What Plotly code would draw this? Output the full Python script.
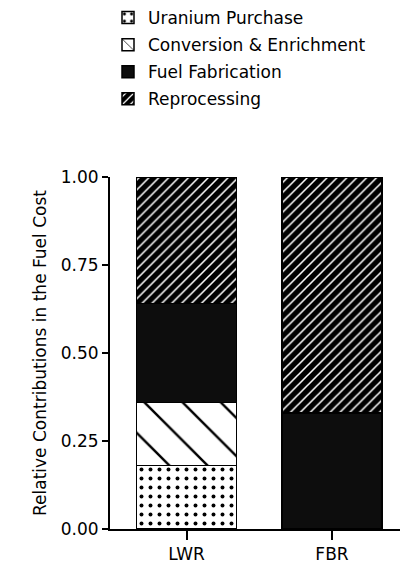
import plotly.graph_objects as go

categories = ["LWR", "FBR"]
uranium_purchase = [0.18, 0.0]
conversion_enrichment = [0.18, 0.0]
fuel_fabrication = [0.28, 0.33]
reprocessing = [0.36, 0.67]
y_ticks = [0.0, 0.25, 0.5, 0.75, 1.0]
y_tick_labels = ["0.00", "0.25", "0.50", "0.75", "1.00"]

series = [
    ("Uranium Purchase", uranium_purchase,
     dict(color="white", pattern=dict(shape=".", fgcolor="black", bgcolor="white", size=9, solidity=0.15, fillmode="replace"))),
    ("Conversion & Enrichment", conversion_enrichment,
     dict(color="white", pattern=dict(shape="\\", fgcolor="black", bgcolor="white", size=27, solidity=0.09, fillmode="replace"))),
    ("Fuel Fabrication", fuel_fabrication,
     dict(color="#0d0d0d")),
    ("Reprocessing", reprocessing,
     dict(color="black", pattern=dict(shape="/", fgcolor="white", bgcolor="black", size=7, solidity=0.22, fillmode="replace"))),
]

fig = go.Figure()
for i, (name, vals, mk) in enumerate(series):
    mk = dict(mk)
    mk["line"] = dict(color="black", width=1.5)
    fig.add_trace(go.Bar(x=categories, y=vals, name=name, marker=mk,
                         width=0.69, legendgroup=f"g{i}"))

font = "DejaVu Sans, Verdana, sans-serif"
W, H = 400, 563
ML, MR, MT, MB = 102, 4, 169, 42
PW, PH = W - ML - MR, H - MT - MB
fig.update_layout(
    barmode="stack",
    width=W, height=H,
    margin=dict(l=ML, r=MR, t=MT, b=MB, autoexpand=False),
    paper_bgcolor="white", plot_bgcolor="white",
    font=dict(family=font, size=17, color="black"),
    legend=dict(
        x=(100 - ML) / PW, y=1 + (MT + 8) / PH, xanchor="left", yanchor="top",
        traceorder="grouped", tracegroupgap=2,
        font=dict(size=17), itemwidth=30, bgcolor="rgba(0,0,0,0)",
    ),
    xaxis=dict(
        range=[-0.526, 1.495], showline=True, linecolor="black", linewidth=2,
        ticks="outside", ticklen=9, tickwidth=2, tickcolor="black",
        tickfont=dict(size=17), showgrid=False, zeroline=False, automargin=False,
    ),
    yaxis=dict(
        range=[0, 1.0], tickvals=y_ticks, ticktext=y_tick_labels,
        showline=True, linecolor="black", linewidth=2,
        ticks="outside", ticklen=6, tickwidth=2, tickcolor="black",
        tickfont=dict(size=17), showgrid=False, zeroline=False, automargin=False,
        title=dict(text="Relative Contributions in the Fuel Cost", font=dict(size=17), standoff=10),
    ),
)

fig.write_html("out.html")
